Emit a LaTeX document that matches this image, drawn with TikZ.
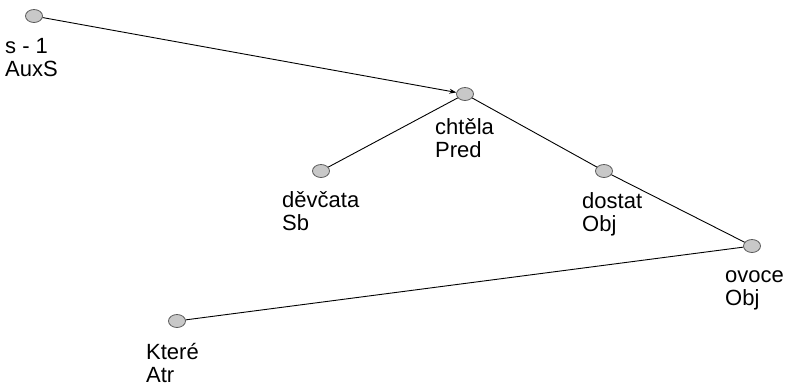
\documentclass[tikz,border=0pt]{standalone}
\usepackage{fontspec}
\setmainfont{Liberation Sans}
\usetikzlibrary{shapes.geometric,arrows.meta}
\definecolor{nodefill}{RGB}{200,200,200}
\definecolor{nodeline}{RGB}{90,90,90}
\begin{document}
\begin{tikzpicture}[x=1pt,y=-1pt,
  tnode/.style={ellipse,draw=nodeline,fill=nodefill,line width=0.8pt,minimum width=17pt,minimum height=13pt,inner sep=0pt},
  tlabel/.style={anchor=north west,inner sep=0pt,align=left,font=\fontsize{22}{23}\selectfont},
  edge/.style={line width=0.9pt,black}]
\useasboundingbox (0,0) rectangle (788,383);
\node[tnode] (s1) at (34,16) {};
\node[tnode] (cht) at (465,94) {};
\node[tnode] (dev) at (321,171) {};
\node[tnode] (dos) at (604,171) {};
\node[tnode] (ovo) at (752,246) {};
\node[tnode] (kte) at (177,321) {};
\node[tlabel] (ls1) at (5,37) {\strut s - 1\\AuxS};
\node[tlabel] (lcht) at (435,118) {\strut chtěla\\Pred};
\node[tlabel] (ldev) at (282,191) {\strut děvčata\\Sb};
\node[tlabel] (ldos) at (582,192) {\strut dostat\\Obj};
\node[tlabel] (lovo) at (725,266) {\strut ovoce\\Obj};
\node[tlabel] (lkte) at (146,343) {\strut Které\\Atr};
\draw[edge,-{Stealth[length=7pt,width=5pt]}] (s1) -- (cht);
\draw[edge] (cht) -- (dev);
\draw[edge] (cht) -- (dos);
\draw[edge] (dos) -- (ovo);
\draw[edge] (ovo) -- (kte);
\end{tikzpicture}
\end{document}
